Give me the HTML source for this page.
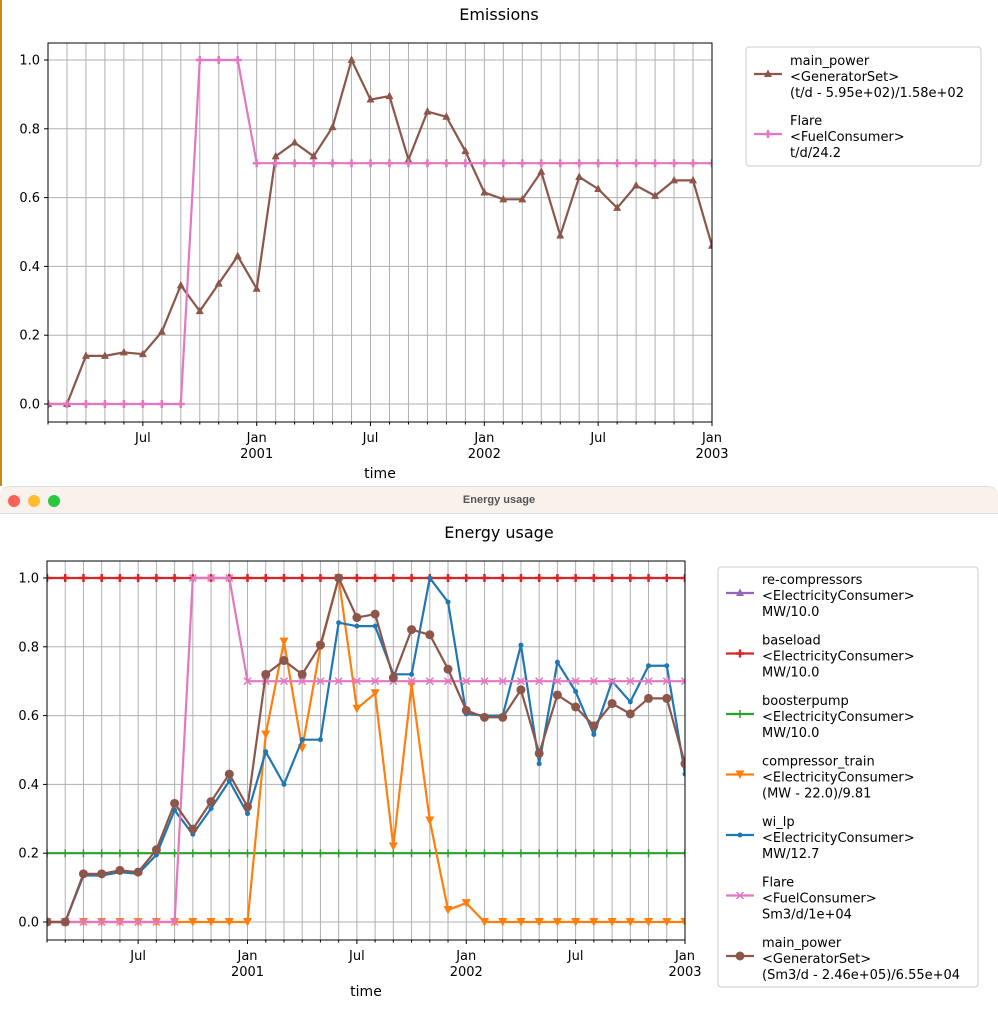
<!DOCTYPE html>
<html><head><meta charset="utf-8"><style>
body{margin:0;width:998px;height:1014px;overflow:hidden;background:#fff;font-family:"Liberation Sans","DejaVu Sans",sans-serif;position:relative}
#topwin{position:absolute;left:0;top:0;width:998px;height:486px;background:#fff;border-left:2px solid #c8881a;box-sizing:border-box}
#titlebar{position:absolute;left:0;top:486px;width:998px;height:28px;background:#f9f1ec;border-top:1px solid #ddd;border-bottom:1px solid #ddd;border-radius:10px 10px 0 0;box-sizing:border-box}
.dot{position:absolute;top:8px;width:12px;height:12px;border-radius:50%}
svg{position:absolute;left:0;font-family:"DejaVu Sans","Liberation Sans",sans-serif}
</style></head><body>
<div id="topwin"></div>
<div id="titlebar">
<div class="dot" style="left:8px;background:#fe5f57"></div>
<div class="dot" style="left:28px;background:#febc2e"></div>
<div class="dot" style="left:48px;background:#28c840"></div>
<div style="position:absolute;left:0;right:0;top:7px;text-align:center;font-size:11px;font-weight:bold;color:#555">Energy usage</div>
</div>
<svg id="top" width="998" height="486" style="top:0"></svg>
<svg id="bot" width="998" height="500" style="top:514px"></svg>
<script>
// months: index 0 = Feb 2000 ... 35 = Jan 2003
const monthCount = 36;
const yTicks = [0, 0.2, 0.4, 0.6, 0.8, 1.0];
const yTickLabels = ["0.0","0.2","0.4","0.6","0.8","1.0"];
const xMajorIdx = [5, 11, 17, 23, 29, 35];
const xMajorLabels = [["Jul"],["Jan","2001"],["Jul"],["Jan","2002"],["Jul"],["Jan","2003"]];

const mainPower = [0,0,0.14,0.14,0.15,0.145,0.21,0.345,0.27,0.35,0.43,0.335,0.72,0.76,0.72,0.805,1.0,0.885,0.895,0.71,0.85,0.835,0.735,0.615,0.595,0.595,0.675,0.49,0.66,0.625,0.57,0.635,0.605,0.65,0.65,0.46];
const flare = [0,0,0,0,0,0,0,0,1,1,1,0.7,0.7,0.7,0.7,0.7,0.7,0.7,0.7,0.7,0.7,0.7,0.7,0.7,0.7,0.7,0.7,0.7,0.7,0.7,0.7,0.7,0.7,0.7,0.7,0.7];
const baseload = Array(36).fill(1.0);
const reCompressors = Array(36).fill(1.0);
const boosterpump = Array(36).fill(0.2);
const compressorTrain = [0,0,0,0,0,0,0,0,0,0,0,0,0.545,0.815,0.505,0.80,1.0,0.62,0.665,0.22,0.69,0.295,0.035,0.055,0,0,0,0,0,0,0,0,0,0,0,0];
const wiLp = [0,0,0.135,0.135,0.145,0.14,0.195,0.325,0.255,0.33,0.41,0.315,0.495,0.40,0.53,0.53,0.87,0.86,0.86,0.72,0.72,1.0,0.93,0.605,0.6,0.6,0.805,0.46,0.755,0.67,0.545,0.70,0.64,0.745,0.745,0.43];

const NS="http://www.w3.org/2000/svg";
function el(p,t,a){const e=document.createElementNS(NS,t);for(const k in a)e.setAttribute(k,a[k]);p.appendChild(e);return e;}

function marker(g,type,x,y,c){
  let m;
  if(type==='tri') m=el(g,'path',{d:`M${x} ${y-4.5}L${x+4} ${y+3}L${x-4} ${y+3}Z`,fill:c});
  else if(type==='circ') m=el(g,'circle',{cx:x,cy:y,r:4.5,fill:c});
  else if(type==='dot') m=el(g,'circle',{cx:x,cy:y,r:2.5,fill:c});
  else if(type==='plus') m=el(g,'path',{d:`M${x-4} ${y}H${x+4}M${x} ${y-4}V${y+4}`,stroke:c,'stroke-width':2.5});
  else if(type==='thinplus') m=el(g,'path',{d:`M${x-4} ${y}H${x+4}M${x} ${y-4}V${y+4}`,stroke:c,'stroke-width':1.5});
  else if(type==='x') m=el(g,'path',{d:`M${x-3.5} ${y-3.5}L${x+3.5} ${y+3.5}M${x+3.5} ${y-3.5}L${x-3.5} ${y+3.5}`,stroke:c,'stroke-width':1.5});
  else if(type==='v') m=el(g,'path',{d:`M${x-4.5} ${y-4}L${x+4.5} ${y-4}L${x} ${y+4.5}Z`,fill:c});
  
  
}

function chart(svg,cfg){
  const {L,R,T,B,y0,y1,title,titleY,series,legend}=cfg;
  const xs=i=>L+(R-L)*i/(monthCount-1);
  const ys=v=>y0+(y1-y0)*v;
  const t=el(svg,'text',{x:499,y:titleY,'text-anchor':'middle','font-size':16,fill:'#000'});t.textContent=title;
  
  
  const grid=el(svg,'g',{});
  
  
  for(let i=0;i<monthCount;i++) el(grid,'line',{x1:xs(i),x2:xs(i),y1:T,y2:B,stroke:'#b0b0b0','stroke-width':1});
  yTicks.forEach((v,k)=>{
    el(grid,'line',{x1:L,x2:R,y1:ys(v),y2:ys(v),stroke:'#b0b0b0','stroke-width':1});
    el(svg,'line',{x1:L-4,x2:L,y1:ys(v),y2:ys(v),stroke:'#000'});
    const tx=el(svg,'text',{x:L-8,y:ys(v)+4.5,'text-anchor':'end','font-size':13});tx.textContent=yTickLabels[k];
    
    
  });
  for(let i=0;i<monthCount;i++){
    const maj=xMajorIdx.includes(i);
    el(svg,'line',{x1:xs(i),x2:xs(i),y1:B,y2:B+(maj?4:2.5),stroke:'#000'});
  }
  xMajorIdx.forEach((i,k)=>{
    xMajorLabels[k].forEach((s,j)=>{
      const tx=el(svg,'text',{x:xs(i),y:B+20+j*16,'text-anchor':'middle','font-size':13});tx.textContent=s;
      
      
    });
  });
  const xl=el(svg,'text',{x:(L+R)/2,y:B+56,'text-anchor':'middle','font-size':14});xl.textContent='time';
  
  
  const clip=el(svg,'clipPath',{id:cfg.id+'clip'});el(clip,'rect',{x:L,y:T,width:R-L,height:B-T});
  const pg=el(svg,'g',{'clip-path':`url(#${cfg.id}clip)`});
  series.forEach(s=>{
    if(s.hidden)return;
    const g=el(pg,'g',{});
    
    
    el(g,'path',{d:s.data.map((v,i)=>(i?'L':'M')+xs(i)+' '+ys(v)).join(''),fill:'none',stroke:s.c,'stroke-width':2.2});
    s.data.forEach((v,i)=>marker(g,s.m,xs(i),ys(v),s.c));
  });
  el(svg,'rect',{x:L,y:T,width:R-L,height:B-T,fill:'none',stroke:'#000','stroke-width':1});
  const lg=el(svg,'g',{});
  
  
  el(lg,'rect',{x:legend.x,y:legend.y,width:legend.w,height:legend.h,rx:3,fill:'#fff',stroke:'#ccc'});
  let yy=legend.y+legend.pad;
  series.forEach(s=>{
    const e=el(lg,'g',{});
    
    
    const my=yy+legend.lh*1.5-4;
    el(e,'line',{x1:legend.x+8,x2:legend.x+36,y1:my,y2:my,stroke:s.c,'stroke-width':2.2});
    marker(e,s.m,legend.x+22,my,s.c);
    s.label.forEach((ln,j)=>{const tx=el(e,'text',{x:legend.x+44,y:yy+j*legend.lh+11,'font-size':13});tx.textContent=ln;});
    yy+=legend.step;
  });
}

chart(document.getElementById('top'),{id:'t',L:48,R:712,T:43,B:422,y0:404,y1:60,title:'Emissions',titleY:20,
 series:[
  {name:'main-power',data:mainPower,c:'#8c564b',m:'tri',label:['main_power','<GeneratorSet>','(t/d - 5.95e+02)/1.58e+02']},
  {name:'flare',data:flare,c:'#e377c2',m:'plus',label:['Flare','<FuelConsumer>','t/d/24.2']}],
 legend:{x:746,y:47,w:235,h:119,pad:7,lh:16,step:60}});

chart(document.getElementById('bot'),{id:'b',L:47,R:685,T:47,B:426,y0:408,y1:64,title:'Energy usage',titleY:24,
 series:[
  {name:'re-compressors',data:reCompressors,c:'#9467bd',m:'tri',hidden:true,label:['re-compressors','<ElectricityConsumer>','MW/10.0']},
  {name:'baseload',data:baseload,c:'#d62728',m:'plus',label:['baseload','<ElectricityConsumer>','MW/10.0']},
  {name:'boosterpump',data:boosterpump,c:'#2ca02c',m:'thinplus',label:['boosterpump','<ElectricityConsumer>','MW/10.0']},
  {name:'compressor-train',data:compressorTrain,c:'#ff7f0e',m:'v',label:['compressor_train','<ElectricityConsumer>','(MW - 22.0)/9.81']},
  {name:'wi-lp',data:wiLp,c:'#1f77b4',m:'dot',label:['wi_lp','<ElectricityConsumer>','MW/12.7']},
  {name:'flare',data:flare,c:'#e377c2',m:'x',label:['Flare','<FuelConsumer>','Sm3/d/1e+04']},
  {name:'main-power',data:mainPower,c:'#8c564b',m:'circ',label:['main_power','<GeneratorSet>','(Sm3/d - 2.46e+05)/6.55e+04']}],
 legend:{x:718,y:53,w:260,h:420,pad:6,lh:16,step:60.5}});
</script>
</body></html>
